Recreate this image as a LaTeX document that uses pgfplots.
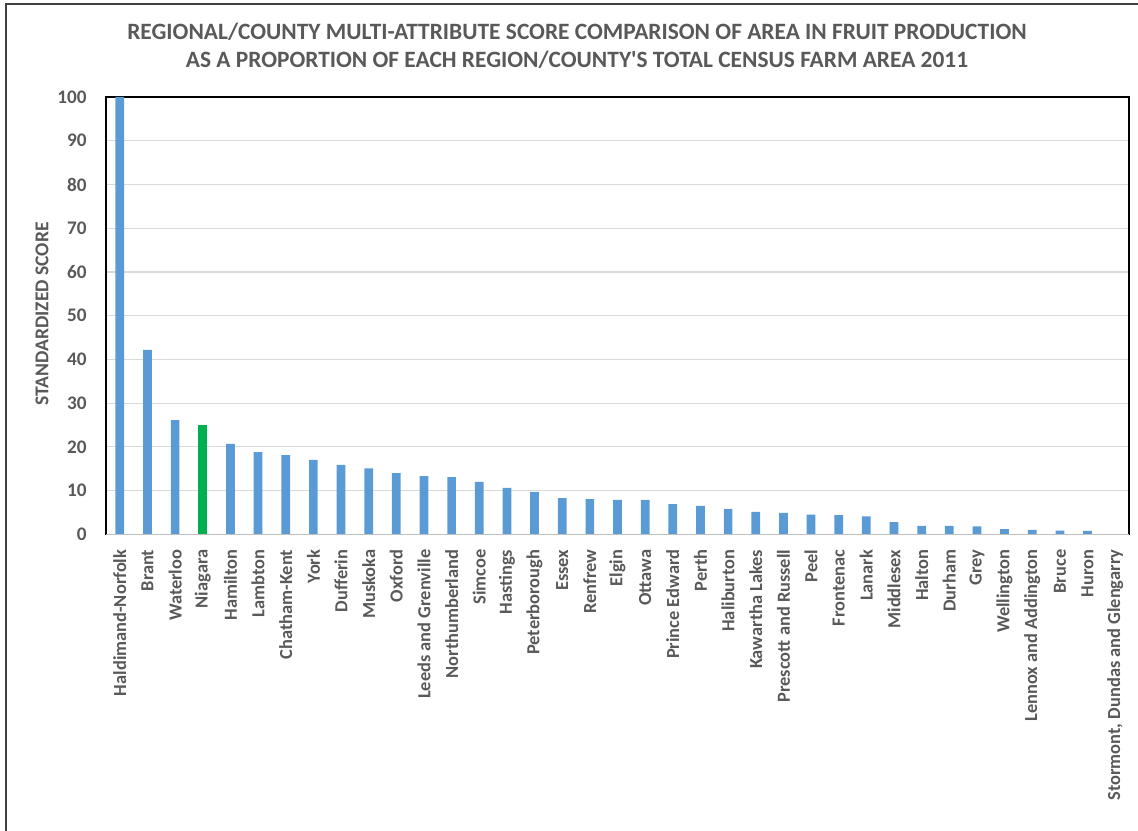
\documentclass[border=0pt]{standalone}
\usepackage{pgfplots}
\pgfplotsset{compat=1.18}
\usepackage{fontspec}
\setmainfont{Carlito}
\definecolor{txt}{HTML}{595959}
\definecolor{barblue}{HTML}{5B9BD5}
\definecolor{bargreen}{HTML}{00B050}
\definecolor{gridc}{HTML}{D9D9D9}
\definecolor{basec}{HTML}{BFBFBF}

% index, standardized score (Niagara is plotted on its own)
\pgfplotstableread{
x y
0 100
1 42.2
2 26.1
4 20.7
5 18.8
6 18.1
7 17.0
8 15.9
9 15.1
10 14.0
11 13.3
12 13.05
13 12.0
14 10.6
15 9.7
16 8.3
17 8.05
18 7.9
19 7.9
20 6.9
21 6.5
22 5.8
23 5.15
24 4.9
25 4.5
26 4.4
27 4.1
28 2.8
29 1.9
30 1.9
31 1.8
32 1.2
33 1.0
34 0.85
35 0.8
36 0
}\regions
\pgfplotstableread{
x y
3 25.0
}\niagara

\begin{document}
\begin{tikzpicture}
% chart frame
\draw[black!75, line width=1pt] (3pt,-5pt) -- (3pt,413pt) -- (575pt,413pt);
\node[text=txt, font=\fontsize{11.7}{14}\selectfont\bfseries, align=center] at (288.5pt,392pt)
  {REGIONAL/COUNTY MULTI-ATTRIBUTE SCORE COMPARISON OF AREA IN FRUIT PRODUCTION\\
   AS A PROPORTION OF EACH REGION/COUNTY\textquotesingle S TOTAL CENSUS FARM AREA 2011};
\node[text=txt, font=\fontsize{9.8}{11}\selectfont\bfseries, rotate=90] at (21pt,258pt)
  {STANDARDIZED SCORE};
\begin{axis}[
  at={(53pt,147.85pt)}, anchor=south west,
  scale only axis, width=511.5pt, height=218.65pt,
  xmin=-0.5, xmax=36.5, ymin=0, ymax=100,
  ytick={0,10,...,100},
  xtick={0,...,36},
  xticklabels={Haldimand-Norfolk,Brant,Waterloo,Niagara,Hamilton,Lambton,Chatham-Kent,York,Dufferin,Muskoka,Oxford,Leeds and Grenville,Northumberland,Simcoe,Hastings,Peterborough,Essex,Renfrew,Elgin,Ottawa,Prince Edward,Perth,Haliburton,Kawartha Lakes,Prescott and Russell,Peel,Frontenac,Lanark,Middlesex,Halton,Durham,Grey,Wellington,Lennox and Addington,Bruce,Huron,{Stormont, Dundas and Glengarry}},
  major tick length=0pt,
  ymajorgrids, grid style={gridc, line width=0.6pt},
  axis line style={black, line width=0.6pt},
  /pgf/number format/assume math mode=true,
  ticklabel style={text=txt},
  yticklabel style={anchor=east, inner sep=0pt, font=\fontsize{9.6}{11}\selectfont\bfseries},
  yticklabel shift=9.5pt,
  xticklabel style={rotate=90, anchor=east, inner sep=0pt, font=\fontsize{9.2}{11}\selectfont\bfseries},
  xticklabel shift=7.5pt,
  ybar, bar width=0.315, bar shift=0pt,
]
\addplot[fill=barblue, draw=none] table[x=x,y=y] {\regions};
\addplot[fill=bargreen, draw=none] table[x=x,y=y] {\niagara};
\draw[basec, line width=0.8pt] (rel axis cs:0,0) -- (rel axis cs:1,0);
\end{axis}
\pgfresetboundingbox
\useasboundingbox (0pt,0pt) rectangle (569pt,415pt);
\end{tikzpicture}
\end{document}
